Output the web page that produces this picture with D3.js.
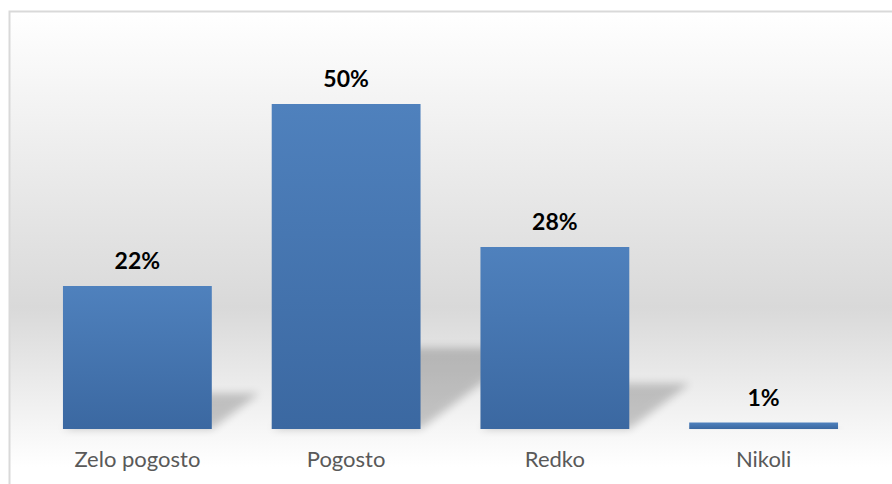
<!DOCTYPE html>
<html>
<head>
<meta charset="utf-8">
<script src="https://cdn.jsdelivr.net/npm/d3@7"></script>
<style>
  body { margin: 0; background: #fff; }
  svg { display: block; }
  .value_label { font-family: Lato, "Open Sans", sans-serif; font-weight: bold; font-size: 23px; fill: #000; }
  .cat_label { font-family: Lato, "Open Sans", sans-serif; font-size: 22px; fill: #595959; }
</style>
</head>
<body>
<svg id="chart" width="892" height="484"></svg>
<script>
// chart data
var categories = ["Zelo pogosto", "Pogosto", "Redko", "Nikoli"];
var values = [22, 50, 28, 1];
var valueLabels = ["22%", "50%", "28%", "1%"];

var svg1 = d3.select("#chart");
var baseY = 429;

var defs = svg1.append("defs");

// background gradient: white -> gray -> white
var bg = defs.append("linearGradient")
    .attr("id", "bgGrad")
    .attr("gradientUnits", "userSpaceOnUse")
    .attr("x1", 0).attr("y1", 12)
    .attr("x2", 0).attr("y2", 467);
bg.append("stop").attr("offset", 0).attr("stop-color", "#ffffff");
bg.append("stop").attr("offset", 0.65).attr("stop-color", "#d9d9d9");
bg.append("stop").attr("offset", 1).attr("stop-color", "#ffffff");

// bar gradient
var barGrad = defs.append("linearGradient")
    .attr("id", "barGrad")
    .attr("x1", 0).attr("y1", 0)
    .attr("x2", 0).attr("y2", 1);
barGrad.append("stop").attr("offset", 0).attr("stop-color", "#4f81bd");
barGrad.append("stop").attr("offset", 1).attr("stop-color", "#3b68a1");

defs.append("filter")
    .attr("id", "blur")
    .attr("x", "-50%").attr("y", "-50%")
    .attr("width", "200%").attr("height", "200%")
    .append("feGaussianBlur")
    .attr("stdDeviation", 4);

// chart area
svg1.append("rect")
    .attr("x", 9.5)
    .attr("y", 11.5)
    .attr("width", 900)
    .attr("height", 500)
    .attr("fill", "url(#bgGrad)")
    .attr("stroke", "#d9d9d9")
    .attr("stroke-width", 2);

var x = d3.scaleBand()
    .domain(categories)
    .range([33, 868])
    .paddingInner(0.287)
    .paddingOuter(0.1435);

var y = d3.scaleLinear()
    .domain([0, 50])
    .range([baseY, 104]);

var data = categories.map(function (c, i) {
    return { cat: c, value: values[i], label: valueLabels[i] };
});

// perspective shadows behind the bars
svg1.append("g")
    .selectAll("path")
    .data(data)
    .enter()
    .append("path")
    .attr("d", function (d) {
        var x0 = x(d.cat), x1 = x0 + x.bandwidth();
        var dy = (baseY - y(d.value)) * 0.25;
        var dx = dy * 1.33;
        return "M" + x0 + "," + baseY + "L" + x1 + "," + baseY +
            "L" + (x1 + dx) + "," + (baseY - dy) + "L" + (x0 + dx) + "," + (baseY - dy) + "Z";
    })
    .attr("fill", "#000")
    .attr("opacity", 0.2)
    .attr("filter", "url(#blur)");

// bars
svg1.append("g")
    .selectAll("rect")
    .data(data)
    .enter()
    .append("rect")
    .attr("x", d => x(d.cat))
    .attr("y", d => y(d.value))
    .attr("width", x.bandwidth())
    .attr("height", d => baseY - y(d.value))
    .attr("fill", "url(#barGrad)");

// value labels
svg1.append("g")
    .selectAll("text")
    .data(data)
    .enter()
    .append("text")
    .attr("class", "value_label")
    .attr("x", d => x(d.cat) + x.bandwidth() / 2)
    .attr("y", d => y(d.value) - 17)
    .attr("text-anchor", "middle")
    .text(d => d.label);

// category axis labels
var xAxis = svg1.append("g")
    .attr("transform", "translate(0," + baseY + ")")
    .call(d3.axisBottom(x).tickSize(0).tickPadding(0));
xAxis.select(".domain").remove();
xAxis.selectAll("text")
    .attr("class", "cat_label")
    .attr("dy", null)
    .attr("y", 38)
    .attr("fill", null);
</script>
</body>
</html>
